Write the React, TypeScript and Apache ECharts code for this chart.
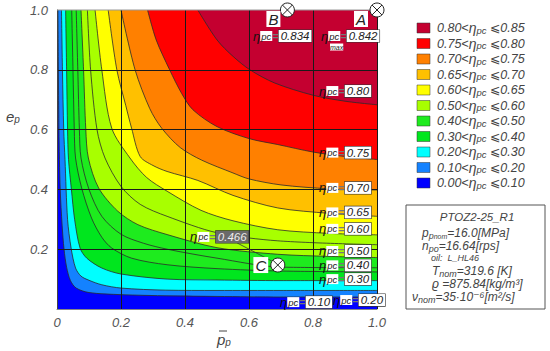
import React, { useEffect, useRef } from 'react';
import * as echarts from 'echarts';

const FONT = "'Liberation Sans', 'DejaVu Sans', sans-serif";

// Axis tick labels
const xTickLabels = ['0', '0.2', '0.4', '0.6', '0.8', '1.0'];
const yTickLabels = ['', '0.2', '0.4', '0.6', '0.8', '1.0'];

// Contour lines (x = p̄p, y = ep), one per level
const c10 = [[0.003, 1], [0.006, 0.6], [0.01, 0.4], [0.016, 0.28], [0.022, 0.2], [0.03, 0.14], [0.042, 0.095], [0.06, 0.07], [0.1, 0.055], [0.2, 0.048], [0.35, 0.044], [0.5, 0.042], [0.7, 0.04], [1, 0.04]];
const c20 = [[0.014, 1], [0.017, 0.8], [0.021, 0.6], [0.025, 0.5], [0.033, 0.3], [0.044, 0.204], [0.058, 0.137], [0.075, 0.11], [0.1, 0.096], [0.14, 0.081], [0.2, 0.07], [0.34, 0.063], [0.5, 0.062], [0.7, 0.062], [1, 0.062]];
const c30 = [[0.027, 1], [0.03, 0.8], [0.033, 0.6], [0.036, 0.5], [0.045, 0.4], [0.055, 0.3], [0.072, 0.204], [0.093, 0.17], [0.14, 0.137], [0.2, 0.117], [0.344, 0.1], [0.5, 0.097], [0.7, 0.095], [1, 0.095]];
const c40 = [[0.046, 1], [0.05, 0.8], [0.054, 0.6], [0.058, 0.505], [0.077, 0.405], [0.108, 0.304], [0.14, 0.24], [0.171, 0.204], [0.233, 0.17], [0.344, 0.148], [0.5, 0.135], [0.7, 0.127], [1, 0.124]];
const c45 = [[0.06, 1], [0.065, 0.8], [0.07, 0.6], [0.075, 0.505], [0.1, 0.4], [0.14, 0.31], [0.2, 0.25], [0.27, 0.22], [0.344, 0.2], [0.5, 0.17], [0.7, 0.14], [1, 0.138]];
const c50 = [[0.075, 1], [0.083, 0.8], [0.09, 0.6], [0.098, 0.505], [0.13, 0.405], [0.19, 0.327], [0.253, 0.282], [0.344, 0.249], [0.5, 0.205], [0.69, 0.183], [0.85, 0.176], [1, 0.172]];
const c55 = [[0.095, 1], [0.105, 0.8], [0.125, 0.6], [0.15, 0.505], [0.2, 0.41], [0.26, 0.35], [0.344, 0.31], [0.5, 0.255], [0.69, 0.228], [1, 0.215]];
const c60 = [[0.119, 1], [0.14, 0.8], [0.171, 0.605], [0.228, 0.505], [0.28, 0.44], [0.344, 0.394], [0.45, 0.33], [0.55, 0.295], [0.69, 0.265], [0.85, 0.253], [1, 0.248]];
const c65 = [[0.16, 1], [0.187, 0.8], [0.215, 0.68], [0.233, 0.605], [0.26, 0.51], [0.3, 0.48], [0.344, 0.46], [0.44, 0.43], [0.55, 0.38], [0.69, 0.338], [0.85, 0.32], [1, 0.31]];
const c70 = [[0.2, 1], [0.244, 0.8], [0.29, 0.67], [0.327, 0.605], [0.385, 0.54], [0.452, 0.498], [0.55, 0.455], [0.6, 0.435], [0.7, 0.415], [0.85, 0.402], [1, 0.398]];
const c75 = [[0.283, 1], [0.31, 0.9], [0.352, 0.8], [0.39, 0.72], [0.425, 0.666], [0.5, 0.61], [0.6, 0.57], [0.69, 0.55], [0.8, 0.525], [0.9, 0.51], [1, 0.5]];
const c80 = [[0.44, 1], [0.5, 0.9], [0.55, 0.845], [0.603, 0.8], [0.68, 0.756], [0.8, 0.715], [0.9, 0.695], [1, 0.683]];

const fillLevels = ['0.10', '0.20', '0.30', '0.40', '0.50', '0.60', '0.65', '0.70', '0.75', '0.80'];
const fillCurves = [c10, c20, c30, c40, c50, c60, c65, c70, c75, c80];
const fillColors = ['#1482FF', '#00FFFF', '#00E61E', '#1EEB1E', '#A8FF00', '#FFFF00', '#FFC000', '#FF8000', '#FF0000', '#C40030'];
const baseColor = '#0000FF';
const lineLevels = ['0.45', '0.55'];
const lineCurves = [c45, c55];

// Legend
const legendLow = ['0.80', '0.75', '0.70', '0.65', '0.60', '0.50', '0.40', '0.30', '0.20', '0.10', '0.00'];
const legendHigh = ['0.85', '0.80', '0.75', '0.70', '0.65', '0.60', '0.50', '0.40', '0.30', '0.20', '0.10'];
const legendColors = ['#C40030', '#FF0000', '#FF8000', '#FFC000', '#FFFF00', '#A8FF00', '#1EEB1E', '#00E61E', '#00FFFF', '#1482FF', '#0000FF'];

// Operating points
const pointNames = ['A', 'B', 'C'];
const pointX = [1.0, 0.72, 0.69];
const pointY = [1.0, 1.0, 0.147];

// Contour value labels (anchor = left-middle)
const labelValues = ['0.834', '0.842', '0.80', '0.75', '0.70', '0.65', '0.60', '0.50', '0.40', '0.30', '0.10', '0.20', '0.466'];
const labelX = [0.6125, 0.825, 0.819, 0.819, 0.819, 0.819, 0.819, 0.819, 0.819, 0.819, 0.697, 0.8625, 0.416];
const labelY = [0.913, 0.913, 0.729, 0.523, 0.405, 0.323, 0.268, 0.194, 0.146, 0.1, 0.023, 0.03, 0.241];

const pointLabelOffsets = [[-16, 9], [-14, 9], [-17, 0]];

function etaRich(dark: boolean) {
  return {
    e: { fill: '#111', fontSize: 13, fontFamily: FONT, fontStyle: 'italic', lineHeight: 10, verticalAlign: 'middle' },
    s: { fill: '#222', fontSize: 9.5, fontFamily: FONT, fontStyle: 'italic', backgroundColor: '#fff', lineHeight: 9, verticalAlign: 'bottom', padding: [0, 1, 0, 1] },
    q: { fill: '#777', fontSize: 11, fontFamily: FONT, fontWeight: 'bold', lineHeight: 10 },
    v: {
      fill: dark ? '#eee' : '#222', fontSize: 11.5, fontFamily: FONT, fontStyle: 'italic', lineHeight: 10,
      backgroundColor: dark ? '#6a6a6a' : '#fff', borderColor: '#333', borderWidth: 0.6, padding: [0, 2, 0, 2],
    },
  };
}

export default function App() {
  const ref = useRef<HTMLDivElement>(null);
  useEffect(() => {
    const chart = echarts.init(ref.current!, undefined, { renderer: 'svg' });

    const fillSeries = fillCurves.map((curve, i) => ({
      type: 'line', name: 'eta ' + fillLevels[i], data: curve, symbol: 'none', smooth: 0.3, silent: true,
      lineStyle: { color: '#2b2b2b', width: 0.8 },
      areaStyle: { color: fillColors[i], opacity: 1, origin: 'end' },
      z: 2,
    }));
    const lineSeries = lineCurves.map((curve, i) => ({
      type: 'line', name: 'eta ' + lineLevels[i], data: curve, symbol: 'none', smooth: 0.3, silent: true,
      lineStyle: { color: '#2b2b2b', width: 0.8 }, z: 2,
    }));

    const labelSeries = {
      type: 'custom', name: 'labels', silent: true, z: 10,
      data: labelX.map((x, i) => [x, labelY[i], i]),
      renderItem: (params: any, api: any) => {
        const i = params.dataIndex;
        const p = api.coord([api.value(0), api.value(1)]);
        const v = labelValues[i];
        const dark = v === '0.466';
        const children: any[] = [];
        if (dark) {
          const c = api.coord([pointX[2], pointY[2]]);
          children.push({ type: 'line', shape: { x1: p[0] + 47, y1: p[1] + 6, x2: c[0] - 6, y2: c[1] - 4 }, style: { stroke: '#333', lineWidth: 0.8 } });
        }
        children.push({
          type: 'text', x: p[0], y: p[1],
          style: { text: `{e|η}{s|pc}{q|=}{v|${v}}`, align: 'left', verticalAlign: 'middle', rich: etaRich(dark) },
        });
        if (v === '0.842') {
          children.push({ type: 'text', x: p[0] + 9, y: p[1] + 11, style: { text: 'max', fill: '#222', fontSize: 7, fontFamily: FONT, fontStyle: 'italic', align: 'left', verticalAlign: 'middle', backgroundColor: '#fff' } });
        }
        return { type: 'group', children };
      },
    };

    const pointSeries = {
      type: 'custom', name: 'points', silent: true, z: 11,
      data: pointX.map((x, i) => [x, pointY[i], i]),
      renderItem: (params: any, api: any) => {
        const i = params.dataIndex;
        const p = api.coord([api.value(0), api.value(1)]);
        const r = 7;
        const d = r * 0.707;
        const o = pointLabelOffsets[i];
        return {
          type: 'group', children: [
            { type: 'circle', shape: { cx: p[0], cy: p[1], r }, style: { fill: '#fff', stroke: '#222', lineWidth: 1 } },
            { type: 'line', shape: { x1: p[0] - d, y1: p[1] - d, x2: p[0] + d, y2: p[1] + d }, style: { stroke: '#222', lineWidth: 1 } },
            { type: 'line', shape: { x1: p[0] - d, y1: p[1] + d, x2: p[0] + d, y2: p[1] - d }, style: { stroke: '#222', lineWidth: 1 } },
            {
              type: 'text', x: p[0] + o[0], y: p[1] + o[1],
              style: { text: pointNames[i], fill: '#222', fontSize: 15, fontFamily: FONT, fontStyle: 'italic', align: 'center', verticalAlign: 'middle', backgroundColor: '#fff', padding: [1, 2, 0, 2] },
            },
          ],
        };
      },
    };

    const legendGraphics: any[] = [];
    legendLow.forEach((lo, i) => {
      const cy = 28 + i * 15.5;
      legendGraphics.push({ type: 'rect', shape: { x: 417, y: cy - 5, width: 13, height: 10 }, style: { fill: legendColors[i], stroke: '#333', lineWidth: 0.5 } });
      legendGraphics.push({
        type: 'text', x: 437, y: cy,
        style: {
          text: `{t|${lo}<}{e|η}{s|pc}{t| ⩽${legendHigh[i]}}`, align: 'left', verticalAlign: 'middle',
          rich: {
            t: { fill: '#444', fontSize: 12.5, fontFamily: FONT, fontStyle: 'italic' },
            e: { fill: '#444', fontSize: 14, fontFamily: FONT, fontStyle: 'italic', lineHeight: 14 },
            s: { fill: '#444', fontSize: 9.5, fontFamily: FONT, fontStyle: 'italic', lineHeight: 9, verticalAlign: 'bottom' },
          },
        },
      });
    });

    const boxRich = {
      m: { fill: '#444', fontSize: 12, fontFamily: FONT, fontStyle: 'italic', lineHeight: 14 },
      s: { fill: '#444', fontSize: 9, fontFamily: FONT, fontStyle: 'italic', lineHeight: 9, verticalAlign: 'bottom' },
      ss: { fill: '#444', fontSize: 7, fontFamily: FONT, fontStyle: 'italic', lineHeight: 6, verticalAlign: 'bottom' },
      t: { fill: '#444', fontSize: 9, fontFamily: FONT, fontStyle: 'italic' },
    };
    const infoGraphics: any[] = [
      { type: 'rect', shape: { x: 406, y: 205, width: 139, height: 104 }, style: { fill: '#fff', stroke: '#555', lineWidth: 1 } },
      { type: 'text', x: 477, y: 217, style: { text: 'PTOZ2-25_R1', fill: '#444', fontSize: 11.5, fontFamily: FONT, fontStyle: 'italic', align: 'center', verticalAlign: 'middle' } },
      { type: 'text', x: 422, y: 233, style: { text: '{m|p}{s|p}{ss|nom}{m|=16.0[MPa]}', align: 'left', verticalAlign: 'middle', rich: boxRich } },
      { type: 'text', x: 422, y: 246, style: { text: '{m|n}{s|po}{m|=16.64[rps]}', align: 'left', verticalAlign: 'middle', rich: boxRich } },
      { type: 'text', x: 431, y: 258, style: { text: '{t|oil:  L_HL46}', align: 'left', verticalAlign: 'middle', rich: boxRich } },
      { type: 'text', x: 432, y: 271, style: { text: '{m|T}{s|nom}{m|=319.6 [K]}', align: 'left', verticalAlign: 'middle', rich: boxRich } },
      { type: 'text', x: 432, y: 284, style: { text: '{m|ϱ =875.84[kg/m³]}', align: 'left', verticalAlign: 'middle', rich: boxRich } },
      { type: 'text', x: 412, y: 297, style: { text: '{m|ν}{s|nom}{m|=35·10⁻⁶[m²/s]}', align: 'left', verticalAlign: 'middle', rich: boxRich } },
    ];

    const axisNameRich = {
      a: { fill: '#444', fontSize: 15, fontFamily: FONT, fontStyle: 'italic', lineHeight: 16 },
      b: { fill: '#444', fontSize: 10, fontFamily: FONT, fontStyle: 'italic', lineHeight: 10, verticalAlign: 'bottom' },
    };
    const axisNames: any[] = [
      { type: 'text', x: 6, y: 116, style: { text: '{a|e}{b|p}', align: 'left', verticalAlign: 'middle', rich: axisNameRich } },
      { type: 'text', x: 217, y: 339, style: { text: '{a|p}{b|p}', align: 'left', verticalAlign: 'middle', rich: axisNameRich } },
      { type: 'line', shape: { x1: 219, y1: 331, x2: 227, y2: 331 }, style: { stroke: '#444', lineWidth: 1 } },
      { type: 'line', shape: { x1: 57, y1: 10, x2: 377, y2: 10 }, style: { stroke: '#999', lineWidth: 1 }, z: 5 },
    ];

    const axisLabelStyle = { color: '#555', fontStyle: 'italic', fontSize: 13, fontFamily: FONT };

    const option: any = {
      animation: false,
      backgroundColor: '#fff',
      grid: { left: 57, top: 10, width: 320, height: 299, show: true, backgroundColor: baseColor, borderWidth: 0 },
      xAxis: {
        type: 'value', min: 0, max: 1, interval: 0.2, z: 3,
        axisLine: { show: true, lineStyle: { color: '#888', width: 1 } },
        axisTick: { show: false },
        splitLine: { show: true, showMinLine: false, lineStyle: { color: '#1a1a1a', width: 1 } },
        axisLabel: { ...axisLabelStyle, margin: 7, formatter: (v: number) => xTickLabels[Math.round(v / 0.2)] },
      },
      yAxis: {
        type: 'value', min: 0, max: 1, interval: 0.2, z: 3,
        axisLine: { show: true, lineStyle: { color: '#444', width: 1 } },
        axisTick: { show: false },
        splitLine: { show: true, showMinLine: false, showMaxLine: false, lineStyle: { color: '#1a1a1a', width: 1 } },
        axisLabel: { ...axisLabelStyle, margin: 9, formatter: (v: number) => yTickLabels[Math.round(v / 0.2)] },
      },
      series: [...fillSeries, ...lineSeries, labelSeries, pointSeries],
      graphic: [...legendGraphics, ...infoGraphics, ...axisNames],
    };
    chart.setOption(option);
    return () => chart.dispose();
  }, []);
  return <div ref={ref} style={{ position: 'fixed', left: 0, top: 0, width: 550, height: 351, background: '#fff' }} />;
}
